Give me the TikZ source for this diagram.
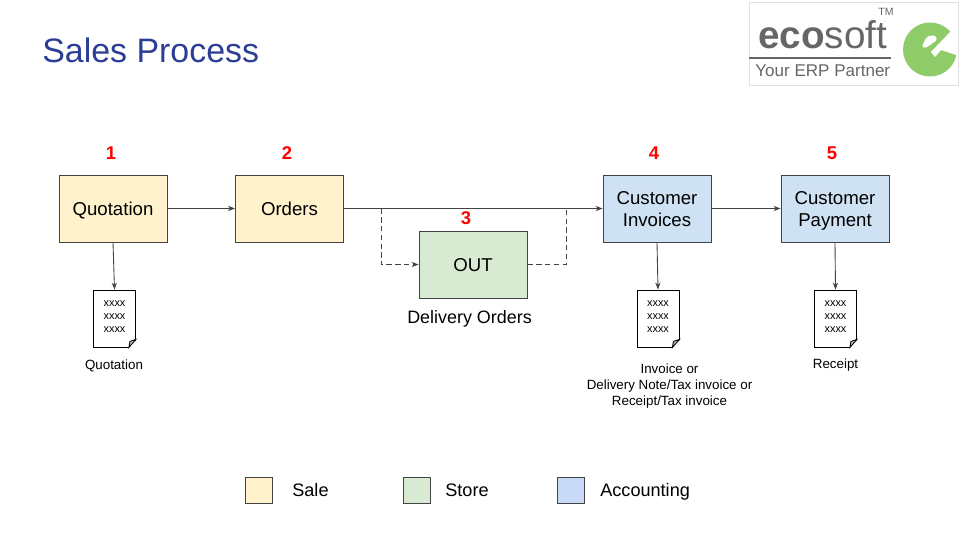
\documentclass[tikz,border=0pt]{standalone}
\usepackage{fontspec}
\setmainfont{Liberation Sans}
\usetikzlibrary{arrows.meta}
\definecolor{saleclr}{HTML}{FFF2CC}
\definecolor{storeclr}{HTML}{D9EAD3}
\definecolor{acctclr}{HTML}{CFE2F3}
\definecolor{legclr}{HTML}{C9DAF8}
\definecolor{lineclr}{HTML}{434343}
\definecolor{titleclr}{HTML}{2B3D94}
\definecolor{logogrn}{HTML}{8FCB68}
\definecolor{logogry}{HTML}{666666}
\newcommand{\lowtxt}[1]{\raisebox{0pt}[7.6pt][0pt]{#1}}
\newcommand{\doctxt}[1]{\raisebox{0pt}[1.2pt][0pt]{#1}}
\tikzset{
box/.style={draw=lineclr,line width=0.55pt,minimum width=2.16cm,minimum height=1.34cm,align=center,font=\fontsize{10.6}{12.5}\selectfont,inner sep=0pt},
num/.style={text=red,font=\fontsize{10.5}{12}\selectfont\bfseries},
doc/.style={draw=black,line width=0.5pt,minimum width=0.84cm,minimum height=1.14cm,align=center,font=\fontsize{6.2}{7.4}\selectfont,inner sep=0pt,fill=white},
captxt/.style={align=center,font=\fontsize{7.6}{9.1}\selectfont},
leg/.style={draw=lineclr,line width=0.5pt,minimum width=0.54cm,minimum height=0.52cm,inner sep=0pt},
legtxt/.style={font=\fontsize{10.3}{12}\selectfont,anchor=base west,inner sep=0pt},
flow/.style={draw=lineclr,line width=0.5pt,-{Stealth[length=4pt,width=3pt]}},
flowplain/.style={draw=lineclr,line width=0.5pt},
dashflow/.style={flowplain,dash pattern=on 3pt off 2pt}
}
\begin{document}
\begin{tikzpicture}[x=0.02cm,y=-0.02cm]
\useasboundingbox (0,0) rectangle (960,540);
\node[anchor=west,text=titleclr,font=\fontsize{19.3}{22}\selectfont,inner sep=0pt] (title) at (42,50) {Sales Process};
% logo
\fill[logogrn] (930,49.5) circle[radius=27];
\fill[white] (951,31) -- (959,31) -- (959,56) -- (941,50) -- (935,57) -- (931,52) -- cycle;
\fill[white,rounded corners=1pt] (921.7,46.7) -- (926.7,36.7) -- (935,35) -- (937.3,40) -- (925,48.3) -- cycle;
\node[draw=black!12,line width=0.5pt,minimum width=4.18cm,minimum height=1.66cm,inner sep=0pt] (logo) at (853.5,43.5) {};
\node[text=logogry,font=\fontsize{22}{24}\selectfont\bfseries,anchor=base west,inner sep=0pt] (logoname) at (758,49) {eco\textmd{soft}};
\node[text=logogry,font=\fontsize{6}{7}\selectfont,inner sep=0pt] (logotm) at (886,12) {TM};
\node[text=logogry,font=\fontsize{9.7}{11}\selectfont,anchor=base west,inner sep=0pt] (logotag) at (755,77) {Your ERP Partner};
\draw[logogry,line width=0.8pt] (749,58) -- (891,58);
% boxes
\node[box,fill=saleclr] (quo) at (113,208.5) {\lowtxt{Quotation}};
\node[box,fill=saleclr] (ord) at (289.5,208.5) {\lowtxt{Orders}};
\node[box,fill=storeclr] (out) at (473,264.5) {\lowtxt{OUT}};
\node[box,fill=acctclr] (inv) at (657,208.5) {\lowtxt{Customer}\\\lowtxt{Invoices}};
\node[box,fill=acctclr] (pay) at (835,208.5) {\lowtxt{Customer}\\\lowtxt{Payment}};
\foreach \name/\x/\y/\n in {n1/111/153/1,n2/287/153/2,n3/466/218/3,n4/654/153/4,n5/832/153/5}
\node[num] (\name) at (\x,\y) {\n};
\node[font=\fontsize{10.2}{12}\selectfont] (outcap) at (469.5,319) {Delivery Orders};
% documents
\foreach \name/\x in {docq/114.5,doci/658,docp/835.5}
{\node[doc] (\name) at (\x,318.5) {\doctxt{xxxx}\\\doctxt{xxxx}\\\doctxt{xxxx}};
\fill[white] (\name.south east) ++(1,-8) -- ++(0,9) -- ++(-9,0) -- cycle;
\draw[black,line width=0.5pt,fill=black!25] (\name.south east) ++(0,-8) -- ++(-7,8) -- ++(1,-6) -- cycle;
}
\node[captxt] (capq) at (114,365.5) {Quotation};
\node[captxt] (capi) at (669.5,386) {Invoice or\\Delivery Note/Tax invoice or\\Receipt/Tax invoice};
\node[captxt] (capp) at (835.5,365.5) {Receipt};
% connectors
\coordinate (brl) at (381,208.5);
\coordinate (brr) at (566,208.5);
\draw[flow] (quo) -- (ord);
\draw[flow] (ord) -- (inv);
\draw[flow] (inv) -- (pay);
\draw[flow] (quo.south) -- (docq.north);
\draw[flow] (inv.south) -- (doci.north);
\draw[flow] (pay.south) -- (docp.north);
\draw[dashflow,-{Stealth[length=4pt,width=3pt]}] (brl) |- (out.west);
\draw[dashflow] (out.east) -| (brr);
% legend
\foreach \name/\x/\clr/\tx/\lab/\tname in {lsale/259/saleclr/292/Sale/tsale,lstore/416.5/storeclr/445/Store/tstore,lacct/570.5/legclr/600/Accounting/tacct}
{\node[leg,fill=\clr] (\name) at (\x,490) {};
\node[legtxt] (\tname) at (\tx,496) {\lab};
}
\end{tikzpicture}
\end{document}
